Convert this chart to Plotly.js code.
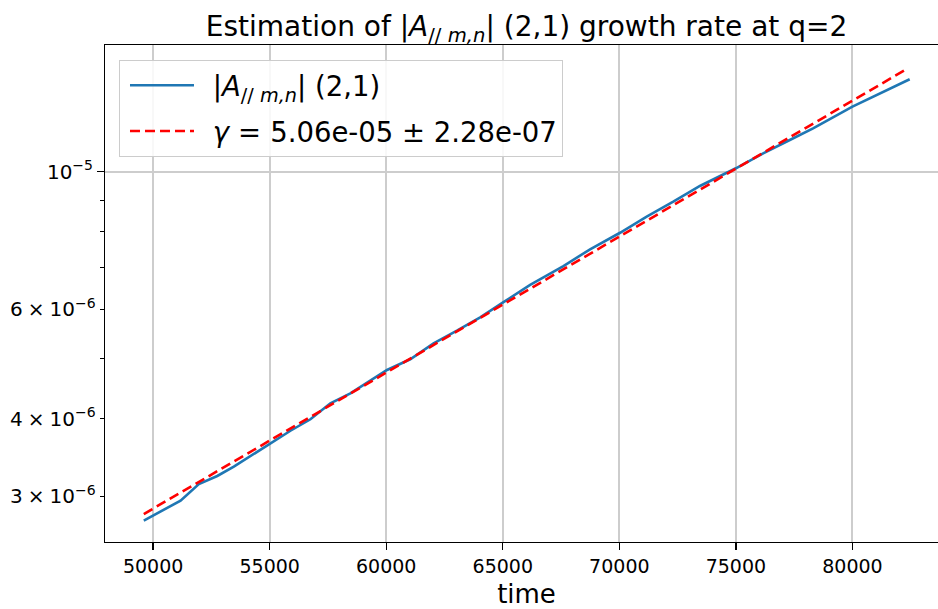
<!DOCTYPE html>
<html>
<head>
<meta charset="utf-8">
<script src="https://cdn.plot.ly/plotly-3.0.1.min.js"></script>
<style>
html,body{margin:0;padding:0;overflow:hidden;background:#fff;}
#plot{width:960px;height:609px;}
</style>
</head>
<body>
<div id="plot"></div>
<script>
// Measured amplitude |A_// m,n| (2,1)
const time_amp = [49600, 51178, 51962, 52751, 53462, 54177, 55034, 55891, 56748, 57605,
  58462, 60034, 61030, 62031, 63034, 64032, 65030, 66174, 67601, 68745,
  70031, 71174, 72314, 73457, 75000, 76170, 77313, 78311, 80000, 81170, 82455];
const amp = [2.743e-6, 2.953e-6, 3.141e-6, 3.236e-6, 3.350e-6, 3.485e-6, 3.661e-6, 3.827e-6, 3.993e-6, 4.237e-6,
  4.396e-6, 4.794e-6, 4.988e-6, 5.292e-6, 5.546e-6, 5.828e-6, 6.164e-6, 6.570e-6, 7.048e-6, 7.499e-6,
  7.974e-6, 8.465e-6, 8.946e-6, 9.484e-6, 1.0127e-5, 1.0705e-5, 1.1247e-5, 1.1744e-5, 1.2727e-5, 1.3373e-5, 1.409e-5];
// Exponential fit
const time_fit = [49600, 82380];
const amp_fit = [2.81e-6, 1.467e-5];

const xTicks = [50000, 55000, 60000, 65000, 70000, 75000, 80000];
const yMajorTicks = [1e-5];
const yMajorText = ['10<sup>−5</sup>'];
const yLabeledMinor = [3e-6, 4e-6, 6e-6];
const yLabeledMinorText = ['3\u2005×\u200510<sup>−6</sup>', '4\u2005×\u200510<sup>−6</sup>', '6\u2005×\u200510<sup>−6</sup>'];
const yMinorTicks = [5e-6, 7e-6, 8e-6, 9e-6];

const seriesName = '\u2002|<i>A</i><sub>// <i>m,n</i></sub>| (2,1)';
const fitName = '\u2002<i>γ</i>\u2004=\u20045.06e-05 ± 2.28e-07';
const titleText = 'Estimation of |<i>A</i><sub>// <i>m,n</i></sub>| (2,1) growth rate at q=2';

const xRange = [47936, 84099];
const yRange = [-5.5963, -4.796];

const traces = [
  {x: time_amp, y: amp, type: 'scatter', mode: 'lines', name: seriesName,
   line: {color: '#1f77b4', width: 2.6}, legendgroup: 'a'},
  {x: time_fit, y: amp_fit, type: 'scatter', mode: 'lines', name: fitName,
   line: {color: '#ff0000', width: 2.6, dash: '10px,5px'}, legendgroup: 'b'},
  {x: time_fit, y: amp_fit, type: 'scatter', mode: 'lines', yaxis: 'y2',
   showlegend: false, hoverinfo: 'skip', line: {color: 'rgba(0,0,0,0)', width: 0}}
];

const layout = {
  width: 960, height: 609,
  margin: {l: 105, r: 12, t: 45, b: 67},
  paper_bgcolor: '#fff', plot_bgcolor: '#fff',
  font: {family: 'DejaVu Sans', color: '#000', size: 19},
  title: {text: titleText, font: {family: 'DejaVu Sans', size: 28, color: '#000'},
          x: 0.5, xref: 'paper', xanchor: 'center', y: 1 - 26/609, yref: 'container', yanchor: 'middle'},
  showlegend: true,
  legend: {x: 0.0166, y: 0.97, xanchor: 'left', yanchor: 'top',
           bgcolor: 'rgba(255,255,255,0.85)', bordercolor: '#cccccc', borderwidth: 1,
           font: {family: 'DejaVu Sans', size: 27.5, color: '#000'},
           tracegroupgap: 7, itemwidth: 64, indentation: 5},
  xaxis: {range: xRange, tickvals: xTicks, ticktext: xTicks.map(String),
          showgrid: true, gridcolor: '#cdcdcd', gridwidth: 2,
          ticks: 'outside', ticklen: 7, tickwidth: 1.3, tickcolor: '#000',
          showline: true, linecolor: '#000', linewidth: 1.3, mirror: true,
          zeroline: false, tickfont: {family: 'DejaVu Sans', size: 19, color: '#000'},
          title: {text: 'time', font: {family: 'DejaVu Sans', size: 26, color: '#000'}, standoff: 11}},
  yaxis: {type: 'log', range: yRange, tickvals: yLabeledMinor, ticktext: yLabeledMinorText,
          showgrid: false, ticks: 'outside', ticklen: 4, tickwidth: 1.1, tickcolor: '#000',
          minor: {tickvals: yMinorTicks, ticks: 'outside', ticklen: 4, tickwidth: 1.1, tickcolor: '#000', showgrid: false},
          showline: true, linecolor: '#000', linewidth: 1.3, mirror: true, zeroline: false,
          tickfont: {family: 'DejaVu Sans', size: 20, color: '#000'}},
  yaxis2: {type: 'log', range: yRange, overlaying: 'y', side: 'left',
           tickvals: yMajorTicks, ticktext: yMajorText,
           showgrid: true, gridcolor: '#cdcdcd', gridwidth: 2,
           ticks: 'outside', ticklen: 7, tickwidth: 1.3, tickcolor: '#000',
           showline: false, zeroline: false,
           tickfont: {family: 'DejaVu Sans', size: 20, color: '#000'}}
};

Plotly.newPlot('plot', traces, layout, {displayModeBar: false, staticPlot: true});
</script>
</body>
</html>
